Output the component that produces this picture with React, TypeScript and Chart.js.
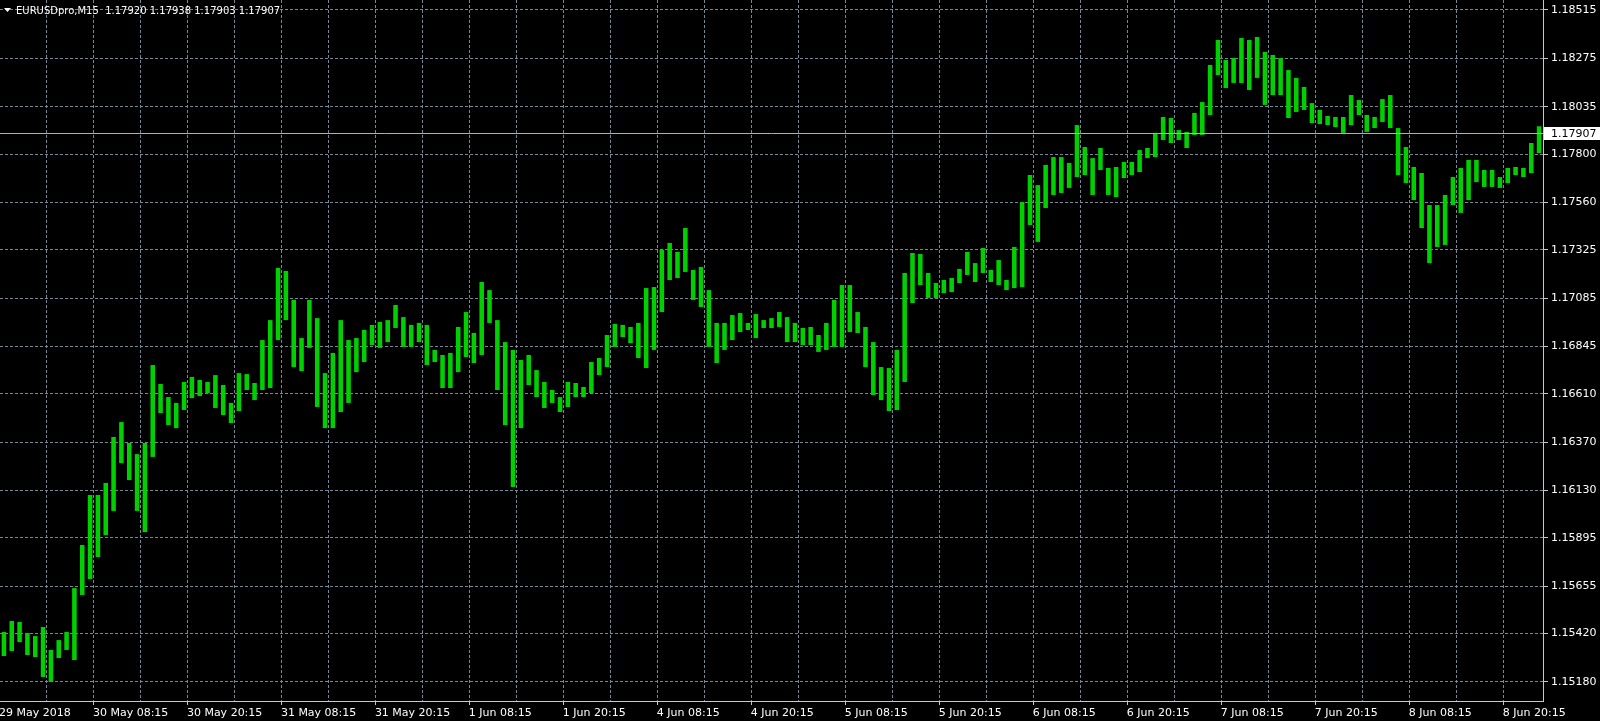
import { useEffect, useRef } from 'react';
import { Chart, registerables } from 'chart.js';

Chart.register(...registerables);

const chartTitle = 'EURUSDpro,M15  1.17920 1.17938 1.17903 1.17907';
const lastBid = 1.17907;

const timeLabels = [
  '29 May 2018', '30 May 08:15', '30 May 20:15', '31 May 08:15', '31 May 20:15',
  '1 Jun 08:15', '1 Jun 20:15', '4 Jun 08:15', '4 Jun 20:15', '5 Jun 08:15',
  '5 Jun 20:15', '6 Jun 08:15', '6 Jun 20:15', '7 Jun 08:15', '7 Jun 20:15',
  '8 Jun 08:15', '8 Jun 20:15',
];
const barsPerTimeLabel = 12;
const barsPerGridLine = 6;

const priceTicks = [
  1.18515, 1.18275, 1.18035, 1.178, 1.1756, 1.17325, 1.17085, 1.16845,
  1.1661, 1.1637, 1.1613, 1.15895, 1.15655, 1.1542, 1.1518,
];
const priceMin = 1.150857;
const priceMax = 1.185646;

const hourlyHigh = [
  1.15428, 1.15483, 1.15478, 1.15423, 1.15408, 1.15453, 1.15339, 1.15388, 1.15428, 1.15646,
  1.1586, 1.16108, 1.16108, 1.16168, 1.16396, 1.1647, 1.16366, 1.16311, 1.16366, 1.16753,
  1.16659, 1.16594, 1.16565, 1.16669, 1.16694, 1.16679, 1.16669, 1.16703, 1.16654, 1.16565,
  1.16713, 1.16708, 1.16664, 1.16877, 1.16976, 1.17235, 1.1722, 1.17076, 1.16887, 1.17076,
  1.16986, 1.16713, 1.16813, 1.16976, 1.16877, 1.16887, 1.16927, 1.16952, 1.16967, 1.16976,
  1.17051, 1.16991, 1.16952, 1.16962, 1.16952, 1.16828, 1.16803, 1.16813, 1.16942, 1.17016,
  1.16912, 1.17165, 1.17125, 1.16976, 1.16867, 1.16828, 1.16778, 1.16803, 1.16728, 1.16669,
  1.16629, 1.16594, 1.16669, 1.16664, 1.16644, 1.16768, 1.16788, 1.16902, 1.16957, 1.16952,
  1.16942, 1.16962, 1.17135, 1.1714, 1.17324, 1.17359, 1.17314, 1.17433, 1.17225, 1.1724,
  1.17125, 1.16962, 1.16962, 1.17001, 1.17011, 1.16962, 1.17006, 1.16976, 1.16986, 1.17016,
  1.16991, 1.16962, 1.16937, 1.16942, 1.16902, 1.16962, 1.17076, 1.1715, 1.1715, 1.17016,
  1.16942, 1.16867, 1.16743, 1.16738, 1.16828, 1.1721, 1.17309, 1.17304, 1.1721, 1.1716,
  1.17175, 1.17185, 1.1723, 1.17314, 1.17259, 1.17334, 1.17225, 1.17274, 1.17175, 1.17339,
  1.17562, 1.17696, 1.17646, 1.17746, 1.17785, 1.17785, 1.17756, 1.17944, 1.17835, 1.1778,
  1.1783, 1.17731, 1.17736, 1.17761, 1.17761, 1.1782, 1.1783, 1.17905, 1.17984, 1.17979,
  1.17919, 1.1791, 1.18004, 1.18058, 1.18242, 1.18366, 1.18267, 1.18277, 1.18376, 1.18366,
  1.18381, 1.18307, 1.18292, 1.18277, 1.18217, 1.18178, 1.18133, 1.18053, 1.18019, 1.17989,
  1.17984, 1.17984, 1.18093, 1.18068, 1.17994, 1.17984, 1.18073, 1.18093, 1.17929, 1.17835,
  1.17736, 1.17706, 1.17547, 1.17547, 1.17597, 1.17686, 1.17731, 1.17771, 1.17771, 1.17721,
  1.17721, 1.17686, 1.17731, 1.17736, 1.17731, 1.17855, 1.17938,
];

const hourlyLow = [
  1.15309, 1.15334, 1.15378, 1.15314, 1.15304, 1.15205, 1.1518, 1.15299, 1.15339, 1.15289,
  1.15612, 1.15691, 1.158, 1.15909, 1.16029, 1.16267, 1.16182, 1.16029, 1.15924, 1.16297,
  1.16515, 1.16455, 1.1644, 1.1653, 1.16589, 1.16599, 1.16614, 1.1654, 1.16505, 1.16465,
  1.16525, 1.16629, 1.16579, 1.16629, 1.16639, 1.16877, 1.16976, 1.16743, 1.16723, 1.16838,
  1.16545, 1.1644, 1.1644, 1.1652, 1.16565, 1.16718, 1.16768, 1.16852, 1.16838, 1.16867,
  1.16937, 1.16843, 1.16843, 1.16867, 1.16753, 1.16768, 1.16639, 1.16639, 1.16718, 1.16793,
  1.16763, 1.16803, 1.16962, 1.16629, 1.16455, 1.16148, 1.1644, 1.16654, 1.16594, 1.1654,
  1.16565, 1.1652, 1.16545, 1.16594, 1.16594, 1.16614, 1.16703, 1.16743, 1.16843, 1.16892,
  1.16862, 1.16788, 1.16738, 1.16828, 1.17016, 1.17175, 1.17185, 1.17215, 1.17076, 1.17041,
  1.16843, 1.16763, 1.16828, 1.16877, 1.16917, 1.16927, 1.16887, 1.16937, 1.16937, 1.16942,
  1.16867, 1.16867, 1.16852, 1.16852, 1.16818, 1.16828, 1.16843, 1.16843, 1.16917, 1.16912,
  1.16743, 1.16604, 1.16579, 1.16525, 1.1653, 1.16669, 1.17061, 1.1715, 1.17086, 1.17086,
  1.1711, 1.17115, 1.1716, 1.172, 1.17165, 1.1721, 1.17165, 1.1715, 1.17125, 1.17135,
  1.1714, 1.17448, 1.17364, 1.17532, 1.17597, 1.17607, 1.17632, 1.17686, 1.17696, 1.17597,
  1.17721, 1.17597, 1.17587, 1.17681, 1.17696, 1.17711, 1.1778, 1.17785, 1.1787, 1.17855,
  1.1787, 1.1783, 1.17895, 1.17895, 1.17994, 1.18192, 1.18128, 1.18153, 1.18153, 1.18118,
  1.18178, 1.18044, 1.18093, 1.18093, 1.17979, 1.18009, 1.18019, 1.17954, 1.17949, 1.17944,
  1.17934, 1.17905, 1.17944, 1.17994, 1.1791, 1.17929, 1.17959, 1.17929, 1.17696, 1.17656,
  1.17572, 1.17433, 1.17259, 1.17339, 1.17349, 1.17547, 1.17508, 1.17572, 1.17661, 1.17637,
  1.17637, 1.17632, 1.17656, 1.17696, 1.17686, 1.17706, 1.17805,
];

const categories = hourlyHigh.map((_, i) =>
  i % barsPerTimeLabel === 0 ? timeLabels[i / barsPerTimeLabel] ?? '' : ''
);

const BG = '#000000';
const BAR_GREEN = '#00d000';
const GRID = '#778899';
const AXIS = '#c8c8c8';
const TEXT = '#ffffff';
const PRICE_LINE = '#a8b0b8';
const FONT = 'DejaVu Sans';

const mt4Overlay = {
  id: 'mt4Overlay',
  afterDatasetsDraw(chart: any) {
    const { ctx, chartArea, scales } = chart;
    const y = Math.round(scales.y.getPixelForValue(lastBid)) + 0.5;
    ctx.save();
    ctx.strokeStyle = PRICE_LINE;
    ctx.lineWidth = 1;
    ctx.beginPath();
    ctx.moveTo(chartArea.left, y);
    ctx.lineTo(chartArea.right, y);
    ctx.stroke();
    ctx.restore();
  },
  afterDraw(chart: any) {
    const { ctx, chartArea, scales, width } = chart;
    const y = Math.round(scales.y.getPixelForValue(lastBid));
    ctx.save();
    ctx.fillStyle = '#ffffff';
    ctx.fillRect(chartArea.right + 1, y - 6, width - chartArea.right - 1, 13);
    ctx.fillStyle = '#000000';
    ctx.font = `11px "${FONT}"`;
    ctx.textBaseline = 'middle';
    ctx.textAlign = 'left';
    ctx.fillText(lastBid.toFixed(5), chartArea.right + 8, y + 1);

    ctx.fillStyle = TEXT;
    ctx.beginPath();
    ctx.moveTo(4, 8);
    ctx.lineTo(11, 8);
    ctx.lineTo(7.5, 12);
    ctx.closePath();
    ctx.fill();
    ctx.font = `10px "${FONT}"`;
    ctx.fillText(chartTitle, 16, 11);
    ctx.restore();
  },
};

export default function App() {
  const canvasRef = useRef<HTMLCanvasElement>(null);

  useEffect(() => {
    document.body.style.margin = '0';
    document.body.style.background = BG;
    const canvas = canvasRef.current;
    if (!canvas) return;

    const chart = new Chart(canvas, {
      type: 'bar',
      data: {
        labels: categories,
        datasets: [
          {
            label: 'EURUSDpro M15',
            data: hourlyHigh.map((h, i) => [hourlyLow[i], h]) as any,
            backgroundColor: BAR_GREEN,
            borderWidth: 0,
            barPercentage: 0.58,
            categoryPercentage: 1,
          },
        ],
      },
      options: {
        animation: false,
        responsive: false,
        maintainAspectRatio: false,
        layout: { padding: 0 },
        plugins: {
          legend: { display: false },
          tooltip: { enabled: false },
          title: { display: false },
        },
        scales: {
          x: {
            type: 'category',
            offset: true,
            grid: {
              offset: true,
              lineWidth: 1,
              color: (c: any) =>
                c.index > 0 && c.index % barsPerGridLine === 0 ? GRID : 'rgba(0,0,0,0)',
              tickLength: 4,
              tickWidth: 1,
              tickColor: (c: any) =>
                c.index > 0 && c.index % barsPerTimeLabel === 0 ? AXIS : 'rgba(0,0,0,0)',
              tickBorderDash: [],
            },
            border: { display: true, color: AXIS, width: 1, dash: [3, 2] },
            ticks: {
              autoSkip: false,
              maxRotation: 0,
              minRotation: 0,
              align: 'start',
              labelOffset: -5,
              padding: 2,
              color: TEXT,
              font: { family: FONT, size: 11 },
            },
            afterFit: (s: any) => {
              s.height = 20;
              s.paddingLeft = 0;
              s.paddingRight = 0;
            },
          },
          y: {
            type: 'linear',
            position: 'right',
            min: priceMin,
            max: priceMax,
            afterBuildTicks: (s: any) => {
              s.ticks = priceTicks.map((v) => ({ value: v }));
            },
            grid: {
              color: GRID,
              lineWidth: 1,
              tickLength: 5,
              tickColor: AXIS,
              tickBorderDash: [],
            },
            border: { display: true, color: AXIS, width: 1, dash: [3, 2] },
            ticks: {
              autoSkip: false,
              padding: 3,
              color: TEXT,
              font: { family: FONT, size: 11 },
              callback: (v: any) => Number(v).toFixed(5),
            },
            afterFit: (s: any) => {
              s.width = 57;
              s.paddingTop = 0;
              s.paddingBottom = 0;
            },
          },
        },
      } as any,
      plugins: [mt4Overlay],
    });

    return () => chart.destroy();
  }, []);

  return (
    <div style={{ position: 'fixed', left: 0, top: 0, width: 1600, height: 721, background: BG }}>
      <canvas ref={canvasRef} width={1600} height={721} style={{ display: 'block', width: 1600, height: 721 }} />
    </div>
  );
}
